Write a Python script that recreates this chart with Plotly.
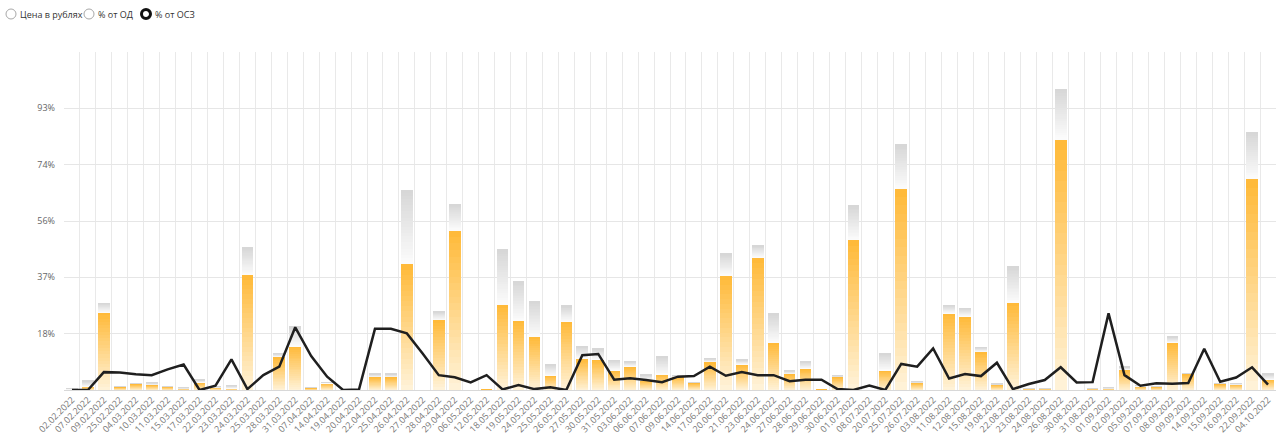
import plotly.graph_objects as go

dates = ["02.02.2022", "07.02.2022", "09.02.2022", "25.02.2022", "04.03.2022", "10.03.2022",
         "11.03.2022", "15.03.2022", "17.03.2022", "22.03.2022", "23.03.2022", "24.03.2022",
         "25.03.2022", "28.03.2022", "31.03.2022", "07.04.2022", "14.04.2022", "19.04.2022",
         "20.04.2022", "22.04.2022", "25.04.2022", "26.04.2022", "27.04.2022", "28.04.2022",
         "29.04.2022", "06.05.2022", "12.05.2022", "18.05.2022", "19.05.2022", "24.05.2022",
         "25.05.2022", "26.05.2022", "27.05.2022", "30.05.2022", "31.05.2022", "03.06.2022",
         "06.06.2022", "07.06.2022", "09.06.2022", "14.06.2022", "17.06.2022", "20.06.2022",
         "21.06.2022", "23.06.2022", "24.06.2022", "27.06.2022", "28.06.2022", "29.06.2022",
         "30.06.2022", "01.07.2022", "08.07.2022", "20.07.2022", "25.07.2022", "26.07.2022",
         "03.08.2022", "11.08.2022", "12.08.2022", "15.08.2022", "19.08.2022", "22.08.2022",
         "23.08.2022", "24.08.2022", "26.08.2022", "30.08.2022", "31.08.2022", "01.09.2022",
         "02.09.2022", "05.09.2022", "07.09.2022", "08.09.2022", "09.09.2022", "14.09.2022",
         "15.09.2022", "16.09.2022", "22.09.2022", "04.10.2022"]

# orange part of each column (%)
part_values = [0.3, 1.2, 25.7, 1.0, 2.0, 1.7, 1.1, 0.6, 2.6, 0.9, 0.6, 38.0,
               0.0, 11.0, 14.5, 0.7, 2.3, 0.0, 0.0, 4.3, 4.3, 41.5, 0.0, 23.2,
               52.8, 0.0, 0.2, 28.2, 23.0, 17.5, 4.8, 22.6, 10.4, 10.0, 6.6, 7.8,
               3.3, 5.2, 4.5, 2.4, 9.3, 37.9, 8.5, 43.8, 15.7, 5.3, 7.1, 0.2,
               4.4, 49.6, 0.0, 6.5, 66.6, 2.5, 0.0, 25.4, 24.4, 12.7, 1.8, 28.9,
               0.5, 0.5, 82.7, 0.0, 0.5, 0.6, 6.9, 1.3, 1.1, 15.7, 5.3, 0.0,
               2.0, 1.9, 69.7, 3.5]

# full column height, grey top included (%)
total_values = [0.5, 3.0, 28.7, 1.2, 2.3, 2.4, 1.3, 0.7, 3.4, 1.1, 1.5, 47.2,
                0.0, 12.1, 21.0, 0.8, 2.6, 0.0, 0.0, 5.3, 5.3, 66.2, 0.0, 25.9,
                61.3, 0.0, 0.2, 46.4, 36.0, 29.4, 8.5, 27.8, 14.4, 13.6, 9.9, 9.4,
                5.0, 11.1, 4.7, 2.5, 10.4, 45.1, 10.0, 47.7, 25.3, 6.4, 9.4, 0.2,
                4.7, 61.0, 0.0, 12.1, 81.1, 2.7, 0.0, 28.0, 27.0, 14.1, 2.0, 40.8,
                0.6, 0.6, 99.3, 0.0, 0.6, 0.7, 7.6, 1.5, 1.3, 17.6, 5.6, 0.0,
                2.2, 2.1, 85.3, 5.3]

# black line: % от ОСЗ
line_values = [0.0, 0.0, 5.9, 5.8, 5.2, 4.9, 6.8, 8.4, 0.0, 1.4, 10.1, 0.3,
               4.9, 7.7, 20.7, 11.2, 4.4, 0.0, 0.2, 20.2, 20.2, 18.7, 12.0, 4.9,
               4.2, 2.5, 4.9, 0.2, 1.6, 0.3, 0.9, 0.0, 11.5, 11.9, 3.4, 3.9,
               3.3, 2.6, 4.4, 4.6, 7.7, 4.7, 5.9, 4.9, 4.9, 2.9, 3.4, 3.4,
               0.3, 0.0, 1.5, 0.0, 8.6, 7.7, 13.7, 3.8, 5.3, 4.6, 9.0, 0.3,
               2.0, 3.3, 7.5, 2.5, 2.6, 25.3, 4.9, 1.4, 2.2, 2.1, 2.3, 13.6,
               2.7, 4.1, 7.5, 1.8]

tick_values = [18.6, 37.2, 55.8, 74.4, 93.0]
tick_labels = ["18%", "37%", "56%", "74%", "93%"]
y_max = 111.6

radio_labels = ["Цена в рублях", "% от ОД", "% от ОСЗ"]


def mix(c0, c1, t):
    return "rgb(%d,%d,%d)" % tuple(round(a + (b - a) * t) for a, b in zip(c0, c1))


ORANGE_BOTTOM = (255, 243, 218)
ORANGE_TOP = (255, 185, 55)
GREY_BOTTOM = (252, 252, 252)
GREY_TOP = (214, 214, 214)
N_STEPS = 24

fig = go.Figure()

grey_values = [max(t - p, 0) for t, p in zip(total_values, part_values)]

for k in range(N_STEPS):
    t = (k + 0.5) / N_STEPS
    fig.add_trace(go.Bar(
        x=dates, y=[v / N_STEPS for v in part_values],
        marker=dict(color=mix(ORANGE_BOTTOM, ORANGE_TOP, t), line=dict(width=0)),
        showlegend=False, hoverinfo="skip"))
for k in range(N_STEPS):
    t = (k + 0.5) / N_STEPS
    fig.add_trace(go.Bar(
        x=dates, y=[v / N_STEPS for v in grey_values],
        marker=dict(color=mix(GREY_BOTTOM, GREY_TOP, t), line=dict(width=0)),
        showlegend=False, hoverinfo="skip"))

fig.add_trace(go.Scatter(
    x=dates, y=line_values, mode="lines",
    line=dict(color="#1f1f1f", width=2.5),
    showlegend=False, hoverinfo="skip"))

# radio-button style selector above the chart
shapes = []
annotations = []
radio_x = [11, 89, 146]
text_x = [18, 96, 153]
PLOT_LEFT = 64
for i, (cx, tx, lab) in enumerate(zip(radio_x, text_x, radio_labels)):
    selected = i == 2
    r = 4.5 if selected else 5
    shapes.append(dict(
        type="circle", xref="paper", yref="paper", xanchor=0, yanchor=1,
        xsizemode="pixel", ysizemode="pixel",
        x0=cx - PLOT_LEFT - r, x1=cx - PLOT_LEFT + r,
        y0=52 - 14 - r, y1=52 - 14 + r,
        line=dict(color="#111111" if selected else "#a8a8a8", width=3 if selected else 1),
        fillcolor="white", layer="above"))
    annotations.append(dict(
        text=lab, xref="paper", yref="paper", x=0, y=1,
        xshift=tx - PLOT_LEFT, yshift=52 - 14,
        xanchor="left", yanchor="middle", showarrow=False,
        font=dict(family="Open Sans, Arial, sans-serif", size=9, color="#333333")))

fig.update_layout(
    width=1280, height=448,
    margin=dict(l=64, r=4, t=52, b=58),
    paper_bgcolor="white", plot_bgcolor="white",
    barmode="stack", bargap=0.27,
    shapes=shapes, annotations=annotations,
    font=dict(family="Open Sans, Arial, sans-serif", size=9, color="#666666"),
    xaxis=dict(
        type="category", range=[-0.5, len(dates) - 0.5],
        tickangle=-45, tickson="boundaries", ticks="",
        showgrid=True, gridcolor="#e9e9e9", gridwidth=1,
        showline=True, linecolor="#d8d8d8", linewidth=1,
        tickfont=dict(size=9, color="#777777"),
        fixedrange=True),
    yaxis=dict(
        range=[0, y_max], tickvals=tick_values, ticktext=tick_labels,
        showgrid=True, gridcolor="#e6e6e6", gridwidth=1,
        zeroline=False, ticks="", ticklabelstandoff=8,
        tickfont=dict(size=9, color="#666666"),
        fixedrange=True),
)

fig.write_html("out.html", config={"displayModeBar": False})
